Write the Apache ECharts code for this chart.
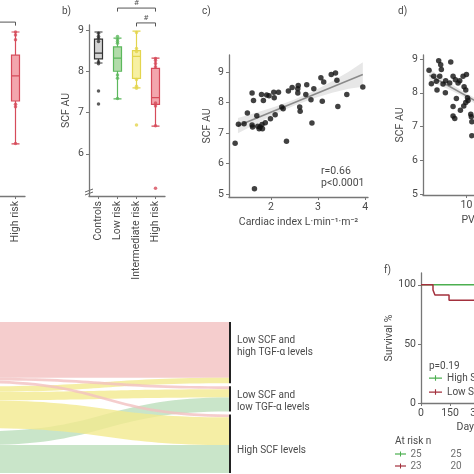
<!DOCTYPE html>
<html><head><meta charset="utf-8">
<script src="https://cdn.jsdelivr.net/npm/echarts@6/dist/echarts.min.js"></script>
<style>html,body{margin:0;padding:0;background:#fff}#c{width:474px;height:474px}</style>
</head><body><div id="c"></div>
<script>
// ---------- DATA ----------
const categories = ['Controls', 'Low risk', 'Intermediate risk', 'High risk'];
// panel a (only the High risk box is visible)
const boxA = [6.24, 7.28, 7.89, 8.39, 8.95];
const dotsA = [8.95, 8.88, 8.76, 7.2, 7.14, 6.25];
// panel b: [min, Q1, median, Q3, max]
const boxB = [
  [8.2, 8.30, 8.44, 8.78, 8.95],
  [7.33, 8.0, 8.32, 8.59, 8.8],
  [7.6, 7.83, 8.36, 8.5, 8.97],
  [6.67, 7.2, 7.36, 8.07, 8.32]
];
const dotsControls = [9.23, 8.92, 8.85, 8.8, 8.72, 8.23, 8.18, 7.52, 7.21];
const dotsLow = [8.84, 8.77, 8.72, 8.68, 7.91, 7.83, 7.34];
const dotsInter = [8.94, 8.55, 8.48, 7.8, 7.64, 7.59, 6.70];
const dotsHigh = [8.31, 8.26, 8.19, 8.11, 7.23, 7.16, 6.68, 5.17];
// significance brackets panel b: [fromCategory, toCategory, level]
const bracketsB = [[1, 3, 9.53], [2, 3, 9.17]];
const bracketA = [0, 3, 9.19];
// panel c: cardiac index vs SCF
const ciX = [1.24,1.31,1.43,1.50,1.60,1.63,1.60,1.61,1.70,1.72,1.75,1.77,1.80,1.81,1.82,1.84,1.88,1.91,1.96,1.99,2.06,2.07,2.09,2.16,2.23,2.26,2.33,2.37,2.45,2.57,2.58,2.57,2.61,2.62,2.74,2.76,2.85,2.87,2.91,3.06,3.09,3.12,3.28,3.37,3.40,3.42,3.61,3.95,1.65];
const ciY = [6.66,7.29,7.30,7.66,8.31,8.07,7.26,7.20,7.57,7.22,7.14,7.20,8.26,7.28,7.14,8.07,7.34,8.25,8.22,7.47,8.34,8.16,7.60,8.34,7.85,7.80,6.73,8.38,8.49,8.45,8.56,8.31,7.85,7.71,8.26,8.58,8.09,7.33,8.45,8.81,8.04,8.67,8.92,8.97,8.73,7.87,8.26,8.51,5.17];
const fitCX = [1.3, 3.95];
const fitCY = [7.24, 8.92];
const bandCX = [1.3, 1.7, 2.1, 2.5, 2.9, 3.3, 3.65, 3.95];
const bandCUp = [7.49, 7.67, 7.87, 8.10, 8.37, 8.70, 9.01, 9.32];
const bandCLo = [6.99, 7.31, 7.63, 7.90, 8.13, 8.32, 8.45, 8.52];
// panel d: PVR vs SCF
const pvrX = [3.11,3.54,3.97,4.46,4.58,4.89,5.08,5.26,5.38,5.69,6.18,6.12,6.92,7.11,7.54,7.54,7.54,7.85,7.97,8.15,8.46,8.77,8.89,9.38,9.57,9.51,9.88,10.0,9.88,10.3,10.2,10.8,10.9,11.0,11.0];
const pvrY = [8.67,8.27,8.49,8.34,8.08,8.95,8.49,8.83,8.69,8.26,8.36,8.0,8.29,8.91,8.49,7.59,7.31,7.24,8.39,7.83,8.29,8.36,7.48,8.49,8.18,7.61,8.08,8.54,7.71,7.77,7.85,7.36,7.29,7.14,6.73];
const fitDX = [3.2, 11.5];
const fitDY = [8.52, 7.77];
const bandDX = [3.2, 5, 7, 9, 11.5];
const bandDUp = [8.72, 8.50, 8.28, 8.08, 7.85];
const bandDLo = [8.32, 8.22, 8.08, 7.92, 7.69];
// panel e: alluvial
const sankeyLeft = ['High risk', 'Intermediate risk', 'Low risk'];
const sankeyRight = ['Low SCF and\nhigh TGF-α levels', 'Low SCF and\nlow TGF-α levels', 'High SCF levels'];
const linkSrc = [0, 1, 0, 1, 2, 0, 1, 2];
const linkTgt = [0, 0, 1, 1, 1, 2, 2, 2];
const linkVal = [20, 2, 1, 3, 5, 1, 10, 10];
// panel f: survival
const kmHighX = [0, 486];
const kmHighY = [100, 100];
const kmLowX = [0, 62, 72, 145, 486];
const kmLowY = [100, 95.7, 91.3, 87.0, 87.0];
const riskDays = [0, 150];
const riskHigh = [25, 25];
const riskLow = [23, 20];

// ---------- STYLE ----------
const FONT = 'Roboto';
const TXT = '#4a4a4a';
const AX = '#777';
const boxFill = ['#d3d3d3', '#b2dcaa', '#f7f0a2', '#f3a6ad'];
const boxBorder = ['#333333', '#5cb85c', '#e3d54e', '#d64b5a'];
const flowCol = ['#f2c0c0', '#f2ea8e', '#bbdebb'];
const labelOffsets = [[0, -6], [0, 3], [0, 7]];
const riskColOffsets = [[-5, 0], [6, 0]];

const chart = echarts.init(document.getElementById('c'), null, {renderer: 'canvas'});

function valueAxis(grid, min, max, ticks, extra) {
  return Object.assign({
    type: 'value', gridIndex: grid, min: min, max: max, scale: true,
    axisLine: {show: true, lineStyle: {color: AX, width: 1.3}},
    axisTick: {show: true, length: 3, customValues: ticks, lineStyle: {color: AX}},
    axisLabel: {customValues: ticks, color: TXT, fontSize: 10.5, fontFamily: FONT, margin: 5},
    splitLine: {show: false},
    nameTextStyle: {color: TXT, fontSize: 10.5, fontFamily: FONT}
  }, extra || {});
}
function catAxis(grid, showLabels) {
  return {
    type: 'category', gridIndex: grid, data: categories,
    axisLine: {show: true, lineStyle: {color: AX, width: 1.3}},
    axisTick: {show: true, alignWithLabel: true, length: 3, lineStyle: {color: AX}},
    axisLabel: {show: showLabels, rotate: 90, interval: 0, color: TXT, fontSize: 10.5, fontFamily: FONT, margin: 5}
  };
}
function dotsSeries(vals, idx) {
  return {type: 'scatter', xAxisIndex: 1, yAxisIndex: 1, symbolSize: 3.5, z: 5,
    itemStyle: {color: boxBorder[idx]}, data: vals.map(v => [idx, v])};
}
function bandRender(xs, up, lo) {
  return function (params, api) {
    if (params.dataIndex !== 0) return;
    const pts = [];
    for (let i = 0; i < xs.length; i++) pts.push(api.coord([xs[i], up[i]]));
    for (let i = xs.length - 1; i >= 0; i--) pts.push(api.coord([xs[i], lo[i]]));
    return {type: 'polygon', shape: {points: pts}, style: {fill: '#e7e7e7'}};
  };
}
function bracketRender(withText) {
  return function (params, api) {
    const from = api.value(0), to = api.value(1), lvl = api.value(2);
    const p1 = api.coord([from, lvl]);
    const p2 = api.coord([to, lvl]);
    const dy = 3.5;
    const children = [{type: 'polyline', shape: {points: [[p1[0], p1[1] + dy], p1, p2, [p2[0], p2[1] + dy]]},
      style: {stroke: '#555', lineWidth: 1, fill: null}}];
    if (withText) children.push({type: 'text', x: (p1[0] + p2[0]) / 2, y: p1[1] - 1,
      style: {text: '#', fill: '#555', font: '8px ' + FONT, textAlign: 'center', textVerticalAlign: 'bottom'}});
    return {type: 'group', children: children};
  };
}

const nodes = sankeyLeft.map((n, i) => ({name: n, itemStyle: {color: flowCol[i]}, label: {show: false}}))
  .concat(sankeyRight.map((n, i) => ({name: n, itemStyle: {color: '#222'},
    label: {show: true, position: 'right', distance: 6, offset: labelOffsets[i], color: TXT, fontSize: 10, lineHeight: 12, fontFamily: FONT}})));
const links = linkSrc.map((s, i) => ({source: sankeyLeft[s], target: sankeyRight[linkTgt[i]], value: linkVal[i],
  lineStyle: {color: flowCol[s], opacity: 0.8}}));

function grid(l, w, t, h) {
  return {left: l, width: w, top: t, height: h, outerBoundsMode: 'none', containLabel: false};
}
function riskItems(row, counts) {
  return riskDays.map((d, i) => ({value: [d, row, counts[i]], label: {offset: riskColOffsets[i]}}));
}

const option = {
  animation: false,
  backgroundColor: '#fff',
  textStyle: {fontFamily: FONT},
  grid: [
    grid(-51, 76, 25, 171),
    grid(89, 76, 25, 171),
    grid(229, 139, 55, 142),
    grid(423, 152, 55, 140),
    grid(421, 94, 273, 130),
    grid(421, 94, 448, 24)
  ],
  xAxis: [
    catAxis(0, true),
    catAxis(1, true),
    valueAxis(2, 1.11, 4.06, [2, 3, 4], {name: 'Cardiac index L·min⁻¹·m⁻²', nameLocation: 'middle', nameGap: 20}),
    valueAxis(3, 2, 30, [10, 20, 30], {name: 'PVR Wood units', nameLocation: 'middle', nameGap: 20}),
    valueAxis(4, 0, 486, [0, 150, 300, 450], {name: 'Days', nameLocation: 'middle', nameGap: 19}),
    {type: 'value', gridIndex: 5, min: 0, max: 486, show: false}
  ],
  yAxis: [
    {type: 'value', gridIndex: 0, min: 4.98, max: 9.12, show: false},
    valueAxis(1, 4.98, 9.12, [6, 7, 8, 9], {name: 'SCF AU', nameLocation: 'middle', nameGap: 17}),
    valueAxis(2, 4.9, 9.56, [5, 6, 7, 8, 9], {name: 'SCF AU', nameLocation: 'middle', nameGap: 16}),
    valueAxis(3, 4.97, 9.12, [5, 6, 7, 8, 9], {name: 'SCF AU', nameLocation: 'middle', nameGap: 17}),
    valueAxis(4, 0, 110, [0, 50, 100], {name: 'Survival %', nameLocation: 'middle', nameGap: 24}),
    {type: 'category', gridIndex: 5, data: ['High SCF', 'Low SCF'], inverse: true, show: false}
  ],
  legend: {
    data: ['High SCF', 'Low SCF'], orient: 'vertical', left: 429, top: 373, padding: 0,
    itemWidth: 13, itemHeight: 7, itemGap: 4,
    icon: 'path://M0,3h14v1.2h-14z M6.4,0.5h1.2v6h-1.2z',
    textStyle: {fontSize: 10, color: TXT, fontFamily: FONT}
  },
  series: [
    // panel a
    {type: 'boxplot', xAxisIndex: 0, yAxisIndex: 0, boxWidth: [8, 8],
      data: ['-', '-', '-', boxA],
      itemStyle: {color: boxFill[3], borderColor: boxBorder[3], borderWidth: 1.2}},
    {type: 'scatter', xAxisIndex: 0, yAxisIndex: 0, symbolSize: 3.5, itemStyle: {color: boxBorder[3]},
      data: dotsA.map(v => [3, v])},
    {type: 'custom', xAxisIndex: 0, yAxisIndex: 0, clip: false, renderItem: bracketRender(false), data: [bracketA]},
    // panel b
    {type: 'boxplot', xAxisIndex: 1, yAxisIndex: 1, boxWidth: [8, 8],
      data: boxB.map((b, i) => ({value: b, itemStyle: {color: boxFill[i], borderColor: boxBorder[i], borderWidth: 1.2}}))},
    dotsSeries(dotsControls, 0), dotsSeries(dotsLow, 1), dotsSeries(dotsInter, 2), dotsSeries(dotsHigh, 3),
    {type: 'custom', xAxisIndex: 1, yAxisIndex: 1, clip: false, renderItem: bracketRender(true), data: bracketsB},
    // panel c
    {type: 'custom', xAxisIndex: 2, yAxisIndex: 2, silent: true, z: 1, renderItem: bandRender(bandCX, bandCUp, bandCLo),
      data: bandCX.map((x, i) => [x, bandCLo[i], bandCUp[i]])},
    {type: 'line', xAxisIndex: 2, yAxisIndex: 2, symbol: 'none', z: 2, lineStyle: {color: '#8a8a8a', width: 1.5},
      data: fitCX.map((x, i) => [x, fitCY[i]])},
    {type: 'scatter', xAxisIndex: 2, yAxisIndex: 2, symbolSize: 5.5, z: 3, itemStyle: {color: '#111'},
      data: ciX.map((x, i) => [x, ciY[i]])},
    // panel d
    {type: 'custom', xAxisIndex: 3, yAxisIndex: 3, silent: true, z: 1, renderItem: bandRender(bandDX, bandDUp, bandDLo),
      data: bandDX.map((x, i) => [x, bandDLo[i], bandDUp[i]])},
    {type: 'line', xAxisIndex: 3, yAxisIndex: 3, symbol: 'none', z: 2, lineStyle: {color: '#8a8a8a', width: 1.5},
      data: fitDX.map((x, i) => [x, fitDY[i]])},
    {type: 'scatter', xAxisIndex: 3, yAxisIndex: 3, symbolSize: 5.5, z: 3, itemStyle: {color: '#111'},
      data: pvrX.map((x, i) => [x, pvrY[i]])},
    // panel e
    {type: 'sankey', left: -20, right: 243, top: 322, bottom: 1, nodeWidth: 2, nodeGap: 3,
      layoutIterations: 0, draggable: false, emphasis: {disabled: true},
      data: nodes, links: links, lineStyle: {curveness: 0.5}},
    // panel f
    {name: 'High SCF', type: 'line', xAxisIndex: 4, yAxisIndex: 4, step: 'end', symbol: 'none', color: '#4caf50',
      lineStyle: {width: 1.5}, data: kmHighX.map((x, i) => [x, kmHighY[i]])},
    {name: 'Low SCF', type: 'line', xAxisIndex: 4, yAxisIndex: 4, step: 'end', symbol: 'none', color: '#a3303d',
      lineStyle: {width: 1.5}, data: kmLowX.map((x, i) => [x, kmLowY[i]])},
    {type: 'scatter', xAxisIndex: 5, yAxisIndex: 5, symbolSize: 0,
      label: {show: true, formatter: p => String(p.value[2]), color: TXT, fontSize: 10, fontFamily: FONT, position: 'inside'},
      data: riskItems('High SCF', riskHigh).concat(riskItems('Low SCF', riskLow))}
  ],
  graphic: [
    {type: 'text', left: 62, top: 6, style: {text: 'b)', fill: TXT, font: '10px ' + FONT}},
    {type: 'text', left: 202, top: 6, style: {text: 'c)', fill: TXT, font: '10px ' + FONT}},
    {type: 'text', left: 398, top: 6, style: {text: 'd)', fill: TXT, font: '10px ' + FONT}},
    {type: 'text', left: 384, top: 265, style: {text: 'f)', fill: TXT, font: '10px ' + FONT}},
    {type: 'text', left: 321, top: 165, style: {text: 'r=0.66\np<0.0001', fill: TXT, font: '10.5px ' + FONT, lineHeight: 12}},
    {type: 'text', left: 429, top: 361, style: {text: 'p=0.19', fill: TXT, font: '10px ' + FONT}},
    {type: 'text', left: 395, top: 436, style: {text: 'At risk n', fill: TXT, font: '10px ' + FONT}},
    {type: 'line', shape: {x1: 395, y1: 454, x2: 406, y2: 454}, style: {stroke: '#4caf50', lineWidth: 1.2}},
    {type: 'line', shape: {x1: 400.5, y1: 451.5, x2: 400.5, y2: 456.5}, style: {stroke: '#4caf50', lineWidth: 1}},
    {type: 'line', shape: {x1: 395, y1: 466, x2: 406, y2: 466}, style: {stroke: '#a3303d', lineWidth: 1.2}},
    {type: 'line', shape: {x1: 400.5, y1: 463.5, x2: 400.5, y2: 468.5}, style: {stroke: '#a3303d', lineWidth: 1}},
    {type: 'line', shape: {x1: 85, y1: 192, x2: 93, y2: 189}, style: {stroke: '#666', lineWidth: 1}},
    {type: 'line', shape: {x1: 85, y1: 195, x2: 93, y2: 192}, style: {stroke: '#666', lineWidth: 1}}
  ]
};
chart.setOption(option);
</script>
</body></html>
